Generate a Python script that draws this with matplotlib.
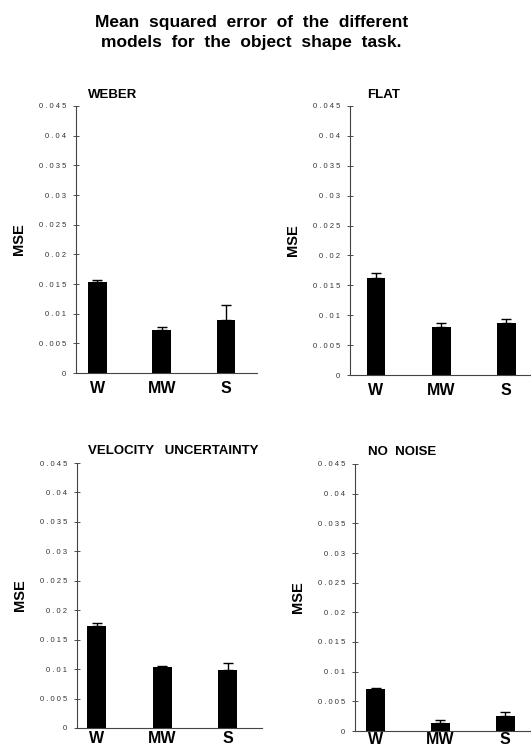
import matplotlib
matplotlib.use("Agg")
import matplotlib.pyplot as plt
import numpy as np

plt.rcParams['font.family'] = ['Liberation Sans', 'DejaVu Sans']

models = ["W", "MW", "S"]
panel_titles = ["WEBER", "FLAT", "VELOCITY   UNCERTAINTY", "NO  NOISE"]
mse_weber = [0.0153, 0.0072, 0.0089]
err_weber = [0.0004, 0.0005, 0.0025]
mse_flat = [0.0162, 0.0080, 0.0087]
err_flat = [0.0008, 0.0007, 0.0007]
mse_velocity = [0.0173, 0.0104, 0.0099]
err_velocity = [0.0005, 0.0001, 0.0011]
mse_nonoise = [0.0071, 0.00135, 0.0026]
err_nonoise = [0.0002, 0.0005, 0.0006]
yticks = [0, 0.005, 0.01, 0.015, 0.02, 0.025, 0.03, 0.035, 0.04, 0.045]
ytick_labels = ["0", "0.005", "0.01", "0.015", "0.02", "0.025", "0.03", "0.035", "0.04", "0.045"]

W, H = 531, 752
fig = plt.figure(figsize=(W / 100, H / 100), dpi=100)

def frac(x0, x1, ytop, ybot):
    return [x0 / W, 1 - ybot / H, (x1 - x0) / W, (ybot - ytop) / H]

def spaced(s):
    return " ".join(s)

panels = [
    (frac(76, 257, 106, 373), mse_weber, err_weber, panel_titles[0], (-0.33, 2.48), 88, 95, 6),
    (frac(350, 531, 106, 375), mse_flat, err_flat, panel_titles[1], (-0.40, 2.38), 367, 95, 6),
    (frac(77, 262, 463, 728), mse_velocity, err_velocity, panel_titles[2], (-0.30, 2.52), 88, 451, 2.5),
    (frac(355, 531, 464, 731), mse_nonoise, err_nonoise, panel_titles[3], (-0.32, 2.40), 368, 452, 0.5),
]

for rect, vals, errs, title, xlim, tx, ty, xpad in panels:
    ax = fig.add_axes(rect)
    x = np.arange(len(models))
    ax.bar(x, vals, width=0.29, color="black",
           yerr=[np.zeros(len(errs)), errs], capsize=3.5,
           error_kw=dict(ecolor="black", elinewidth=1.0, capthick=1.0))
    ax.set_xlim(*xlim)
    ax.set_ylim(0, 0.045)
    ax.set_yticks(yticks)
    ax.set_yticklabels([spaced(t) for t in ytick_labels], fontsize=5.5)
    ax.tick_params(axis='y', direction='inout', length=4, width=0.6, pad=5, colors='#333333')
    ax.set_xticks(x)
    ax.set_xticklabels(models, fontsize=11.5, fontweight='bold')
    ax.tick_params(axis='x', length=0, pad=xpad)
    for s in ["top", "right"]:
        ax.spines[s].set_visible(False)
    for s in ["left", "bottom"]:
        ax.spines[s].set_linewidth(0.8)
        ax.spines[s].set_color('#444444')
    ax.set_ylabel("MSE", fontsize=10.5, fontweight='bold', labelpad=9)
    ax.set_facecolor('none')
    fig.text(tx / W, 1 - ty / H, title, fontsize=9.5, fontweight='bold',
             ha='left', va='center')

fig.text(0.473, 1 - 22 / H, "Mean  squared  error  of  the  different", fontsize=12.5,
         fontweight='bold', ha='center', va='center')
fig.text(0.473, 1 - 43 / H, "models  for  the  object  shape  task.", fontsize=12.5,
         fontweight='bold', ha='center', va='center')

fig.savefig("out.png", dpi=100)
